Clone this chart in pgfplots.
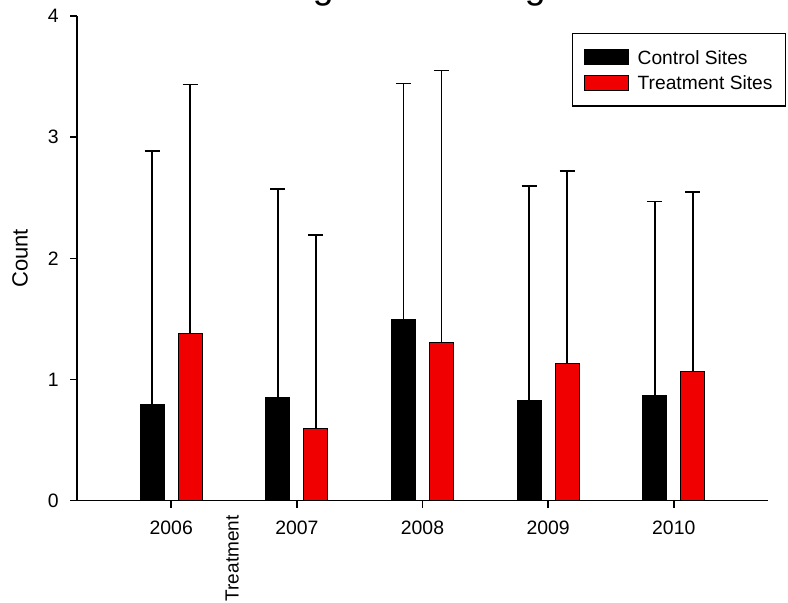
\documentclass[border=0pt]{standalone}
\usepackage{pgfplots}
\pgfplotsset{compat=1.18}
\usepackage{pgfplotstable}
\usepackage{fontspec}
\setmainfont{Liberation Sans}
\definecolor{treatred}{RGB}{240,0,0}

% year, mean count, upper error (SD)
\pgfplotstableread{
year mean err
2006 0.790 2.098
2007 0.853 1.717
2008 1.497 1.947
2009 0.831 1.764
2010 0.872 1.598
}\controltable

\pgfplotstableread{
year mean err
2006 1.381 2.055
2007 0.597 1.595
2008 1.307 2.244
2009 1.134 1.589
2010 1.065 1.482
}\treattable

\begin{document}
\begin{tikzpicture}
\begin{axis}[
    scale only axis,
    width=345.5pt, height=242.35pt,
    xmin=2005.25, xmax=2010.75,
    ymin=0, ymax=4,
    ybar=7pt, bar width=12pt,
    clip=false,
    axis x line*=bottom, axis y line*=left,
    axis line style={line width=0.75pt, black},
    xtick={2006,2007,2008,2009,2010},
    ytick={0,1,2,3,4},
    x tick label style={/pgf/number format/1000 sep={}},
    tick align=outside, major tick length=3.5pt,
    tick style={line width=0.75pt, black},
    ticklabel style={font=\fontsize{9.7}{11}\selectfont},
    xticklabel style={inner sep=0pt, yshift=-6.5pt},
    yticklabel style={inner sep=0pt, xshift=-5.5pt},
    /pgf/number format/assume math mode=true,
    title={Sagebrush Obligates},
    title style={at={(0.528,1)}, anchor=base, yshift=3pt,
        font=\fontsize{18.7}{22}\selectfont},
    ylabel={Count},
    ylabel style={at={(axis description cs:-0.0825,0.5)},
        anchor=center, font=\fontsize{11}{13}\selectfont},
    legend style={at={(0.7163,0.965)}, anchor=north west, draw=black,
        line width=0.75pt, inner xsep=5.5pt, inner ysep=7.3pt,
        row sep=3.85pt, column sep=3.5pt,
        font=\fontsize{9.6}{11}\selectfont,
        cells={anchor=base west},
        nodes={inner sep=1pt, text height=6.9pt, text depth=0pt}},
    error bars/y dir=plus,
    error bars/y explicit,
    error bars/error mark=|,
    error bars/error bar style={line width=0.8pt, black},
    error bars/error mark options={line width=0.8pt, black, mark size=3.75pt},
]

\addplot[fill=black, draw=black, line width=0.5pt,
    legend image code/.code={\filldraw[fill=black, draw=black, line width=0.5pt] (0pt,-0.2pt) rectangle (22pt,7.3pt);}]
    table[x=year, y=mean, y error=err] {\controltable};
\addlegendentry{Control Sites}

\addplot[fill=treatred, draw=black, line width=0.5pt,
    legend image code/.code={\filldraw[fill=treatred, draw=black, line width=0.5pt] (0pt,-0.2pt) rectangle (22pt,7.3pt);}]
    table[x=year, y=mean, y error=err] {\treattable};
\addlegendentry{Treatment Sites}

\coordinate (O) at (rel axis cs:0,0);
\coordinate (T) at (axis cs:2006.485,0);
\end{axis}

\node[rotate=90, anchor=east, inner sep=0pt,
    font=\fontsize{9.5}{11}\selectfont] at ([yshift=-7.15pt]T) {Treatment};

\pgfresetboundingbox
\path[use as bounding box] ([shift={(-38.5pt,-50.65pt)}]O) rectangle ([shift={(355.5pt,250.35pt)}]O);
\end{tikzpicture}
\end{document}
